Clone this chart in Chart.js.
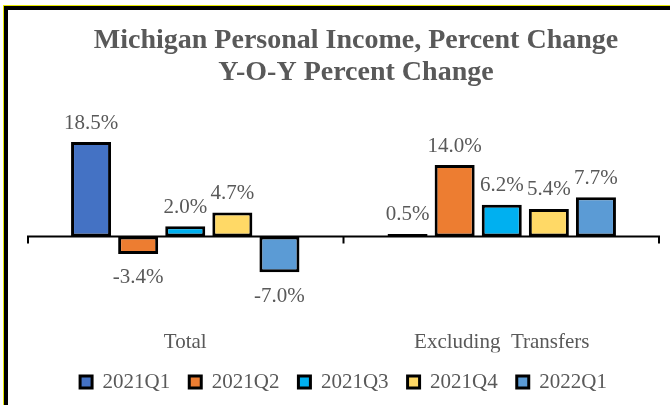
<!DOCTYPE html>
<html>
<head>
<meta charset="utf-8">
<script src="https://cdn.jsdelivr.net/npm/chart.js@4"></script>
<style>
  html, body { margin: 0; padding: 0; background: #fff; }
  body { width: 670px; height: 405px; overflow: hidden; position: relative; }
  #frame {
    position: absolute; left: 3px; top: 5px; width: 667px; height: 400px;
    border-left: 1px solid #e8e800; border-top: 1px solid #e8e800;
  }
  #inner {
    position: absolute; left: 0; top: 0; width: 663px; height: 396px;
    border-left: 4px solid #000; border-top: 4px solid #000;
  }
  #chart { position: absolute; left: 0; top: 0; }
</style>
</head>
<body>
<div id="frame"><div id="inner"><canvas id="chart" width="662" height="395"></canvas></div></div>
<script>
const categories = ["Total", "Excluding  Transfers"];
const seriesNames = ["2021Q1", "2021Q2", "2021Q3", "2021Q4", "2022Q1"];
const q1_2021 = [18.5, 0.5];
const q2_2021 = [-3.4, 14.0];
const q3_2021 = [2.0, 6.2];
const q4_2021 = [4.7, 5.4];
const q1_2022 = [-7.0, 7.7];
const titleLines = ["Michigan Personal Income, Percent Change", "Y-O-Y Percent Change"];

const colors = ["#4472C4", "#ED7D31", "#00B0F0", "#FFD966", "#5B9BD5"];
const allValues = [q1_2021, q2_2021, q3_2021, q4_2021, q1_2022];
const textGray = "#595959";
const serif = "'Liberation Serif', 'Times New Roman', serif";

// title drawn by hand so it can sit a bit right of center like the original
const titlePlugin = {
  id: "titleLines",
  afterDraw(chart) {
    const ctx = chart.ctx;
    ctx.save();
    ctx.font = "bold 28px " + serif;
    ctx.fillStyle = textGray;
    ctx.textAlign = "center";
    ctx.textBaseline = "middle";
    ctx.fillText(titleLines[0], 348, 31);
    ctx.fillText(titleLines[1], 348, 63);
    ctx.restore();
  },
};

// zero line with tick marks at the category edges
const zeroAxis = {
  id: "zeroAxis",
  afterDatasetsDraw(chart) {
    const ctx = chart.ctx;
    const x = chart.scales.x;
    const y0 = chart.scales.y.getPixelForValue(0);
    const area = chart.chartArea;
    const mid = (x.getPixelForValue(0) + x.getPixelForValue(1)) / 2;
    ctx.save();
    ctx.strokeStyle = "#000";
    ctx.lineWidth = 2;
    ctx.beginPath();
    ctx.moveTo(area.left, y0);
    ctx.lineTo(area.right, y0);
    [area.left + 1, mid, area.right - 1].forEach(function (tx) {
      ctx.moveTo(tx, y0);
      ctx.lineTo(tx, y0 + 7);
    });
    ctx.stroke();
    ctx.restore();
  },
};

// value labels above / below the bars
const barLabels = {
  id: "barLabels",
  afterDatasetsDraw(chart) {
    const ctx = chart.ctx;
    ctx.save();
    ctx.font = "21px " + serif;
    ctx.fillStyle = textGray;
    ctx.textAlign = "center";
    ctx.textBaseline = "middle";
    chart.data.datasets.forEach(function (ds, i) {
      const meta = chart.getDatasetMeta(i);
      meta.data.forEach(function (bar, j) {
        const v = ds.data[j];
        const ty = v >= 0 ? bar.y - 19 : bar.y + 24;
        ctx.fillText(v.toFixed(1) + "%", bar.x, ty);
      });
    });
    ctx.restore();
  },
};

const datasets = seriesNames.map(function (name, i) {
  return {
    label: name,
    data: allValues[i],
    backgroundColor: colors[i],
    borderColor: "#000",
    borderWidth: 3,
    borderSkipped: false,
    categoryPercentage: 0.744,
    barPercentage: 0.85,
  };
});

new Chart(document.getElementById("chart"), {
  type: "bar",
  data: {
    labels: categories,
    datasets: datasets,
  },
  options: {
    responsive: false,
    animation: false,
    devicePixelRatio: 1,
    layout: {
      padding: { left: 19, right: 10, top: 124, bottom: 2.5 },
    },
    scales: {
      x: {
        grid: { display: false, drawTicks: false },
        border: { display: false },
        ticks: {
          color: textGray,
          font: { family: serif, size: 21, lineHeight: 1 },
          padding: 0,
          autoSkip: false,
          maxRotation: 0,
        },
      },
      y: {
        display: false,
        min: -18.6,
        max: 20.08,
      },
    },
    plugins: {
      legend: {
        position: "bottom",
        labels: {
          color: textGray,
          font: { family: serif, size: 21 },
          boxWidth: 12,
          boxHeight: 12,
          padding: 19,
        },
      },
      tooltip: { enabled: false },
    },
  },
  plugins: [titlePlugin, zeroAxis, barLabels],
});
</script>
</body>
</html>
